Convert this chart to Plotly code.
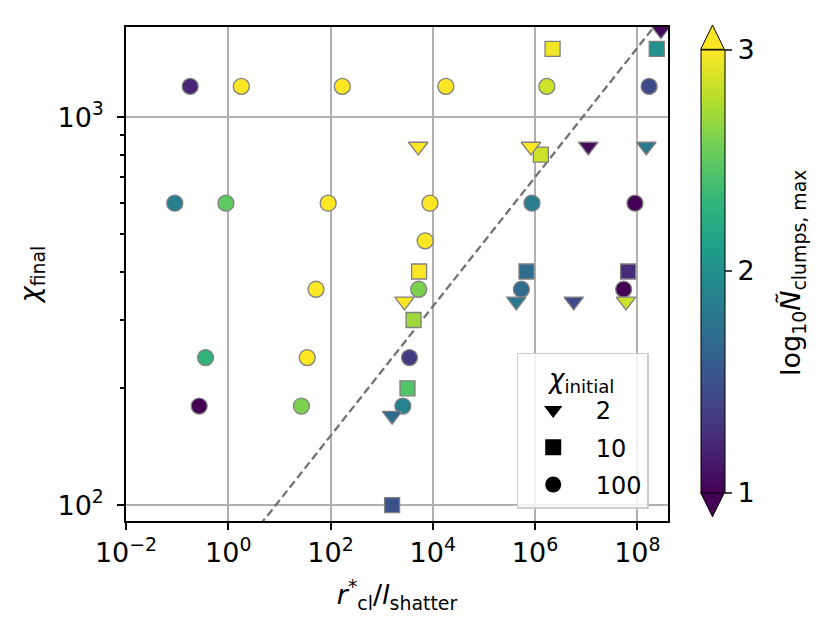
import numpy as np
import plotly.graph_objects as go

# chi_initial = 2 (triangulos)
tri_x = [5.2e3, 8.3e5, 1.1e7, 1.5e8, 2.9e8, 2.8e3, 4.3e5, 5.7e6, 6.0e7, 1.6e3]
tri_y = [840, 840, 840, 840, 1675, 335, 335, 335, 335, 170]
tri_c = [3.0, 3.0, 1.05, 1.8, 1.05, 3.0, 1.8, 1.45, 2.85, 1.7]

# chi_initial = 10 (cuadrados)
sq_x = [2.2e6, 2.4e8, 1.3e6, 5.4e3, 6.8e5, 6.6e7, 4.2e3, 3.2e3, 1.6e3]
sq_y = [1500, 1500, 800, 400, 400, 400, 300, 200, 100]
sq_c = [2.95, 2.0, 2.85, 3.0, 1.7, 1.25, 2.7, 2.45, 1.5]

# chi_initial = 100 (circulos)
ci_x = [0.18, 1.8, 170, 1.8e4, 1.7e6, 1.7e8,
        0.09, 0.9, 90, 8.8e3, 8.7e5, 9.0e7,
        52, 5.3e3, 5.4e5, 5.4e7, 7.1e3,
        0.36, 35, 3.5e3, 0.27, 27, 2.6e3]
ci_y = [1200, 1200, 1200, 1200, 1200, 1200,
        600, 600, 600, 600, 600, 600,
        360, 360, 360, 360, 480,
        240, 240, 240, 180, 180, 180]
ci_c = [1.2, 3.0, 3.0, 3.0, 2.85, 1.45,
        1.85, 2.5, 3.0, 3.0, 1.85, 1.0,
        3.0, 2.6, 1.7, 1.0, 3.0,
        2.3, 3.0, 1.35, 1.0, 2.6, 1.9]

legend_names = ["2", "10", "100"]
legend_symbols = ["triangle-down", "square", "circle"]

x_ticks = [1e-2, 1e0, 1e2, 1e4, 1e6, 1e8]
x_ticktext = ["10<sup>−2</sup>", "10<sup>0</sup>", "10<sup>2</sup>",
              "10<sup>4</sup>", "10<sup>6</sup>", "10<sup>8</sup>"]
y_ticks = [1e2, 1e3]
y_ticktext = ["10<sup>2</sup>", "10<sup>3</sup>"]

# la pagina agrega 8px de margen al body
OFF = 8
W, H = 829 - OFF, 635 - OFF
L, R, T, B = 126 - OFF, 161, 27 - OFF, 114
pw, ph = W - L - R, H - T - B
def px(x): return (x - OFF - L) / pw
def py(y): return (H + OFF - B - y) / ph

font = "DejaVu Sans"
FS = 27
fig = go.Figure()

# linea de referencia chi ~ x^(1/6)
xl = np.logspace(-2, 9, 50)
fig.add_trace(go.Scatter(x=xl, y=70 * xl ** (1 / 6), mode="lines",
                         line=dict(color="#737373", width=2.3, dash="8px,4px"),
                         showlegend=False, hoverinfo="skip"))

def marker(sym, c, size, cbar=False):
    m = dict(symbol=sym, size=size, color=c, colorscale="Viridis", cmin=1, cmax=3,
             line=dict(color="gray", width=1.3))
    if cbar:
        m.update(showscale=True, colorbar=dict(
            x=px(700.7), xanchor="left", xpad=0, ypad=0,
            y=(py(49.3) + py(492.7)) / 2, yanchor="middle",
            len=py(49.3) - py(492.7), lenmode="fraction",
            thickness=24, outlinewidth=1, outlinecolor="black",
            tickvals=[1, 2, 3], ticks="outside", ticklen=7, tickwidth=1.5,
            tickfont=dict(family=font, size=FS, color="black")))
    return m

fig.add_trace(go.Scatter(x=sq_x, y=sq_y, mode="markers", marker=marker("square", sq_c, 15),
                         showlegend=False))
fig.add_trace(go.Scatter(x=ci_x, y=ci_y, mode="markers", marker=marker("circle", ci_c, 16),
                         showlegend=False))
fig.add_trace(go.Scatter(x=tri_x, y=tri_y, mode="markers",
                         marker=marker("triangle-down", tri_c, 17, cbar=True),
                         showlegend=False))

for name, sym in zip(legend_names, legend_symbols):
    fig.add_trace(go.Scatter(x=[None], y=[None], mode="markers",
                             name="\u00a0" + name, legendgroup=name,
                             marker=dict(symbol=sym, size=16, color="black")))

# flechas de extension de la barra de color
x0, x1 = px(700.7), px(724.3)
xm = (x0 + x1) / 2
fig.add_shape(type="path", xref="paper", yref="paper",
              path=f"M {x0},{py(49.3)} L {xm},{py(25)} L {x1},{py(49.3)} Z",
              fillcolor="#fde725", line=dict(color="black", width=1))
fig.add_shape(type="path", xref="paper", yref="paper",
              path=f"M {x0},{py(492.7)} L {xm},{py(516.7)} L {x1},{py(492.7)} Z",
              fillcolor="#440154", line=dict(color="black", width=1))

fig.add_annotation(xref="paper", yref="paper", x=px(792), y=py(273), textangle=-90,
                   xanchor="center", yanchor="middle",
                   text="log<sub>10</sub><i>Ñ</i><sub>clumps, max</sub>", showarrow=False,
                   font=dict(family=font, size=FS, color="black"))

ax = dict(type="log", showline=True, linecolor="black", linewidth=1.5, mirror=True,
          ticks="outside", ticklen=7, tickwidth=1.5, tickcolor="black",
          showgrid=True, gridcolor="#b0b0b0", gridwidth=1.5, zeroline=False,
          tickfont=dict(family=font, size=FS, color="black"))

fig.update_xaxes(**ax, range=[-2, 8.6], tickvals=x_ticks, ticktext=x_ticktext,
                 title=dict(text="<i>r</i><sup>*</sup><sub>cl</sub>/<i>l</i><sub>shatter</sub>",
                            font=dict(family=font, size=FS, color="black"), standoff=18))
fig.update_yaxes(**ax, range=[np.log10(91), np.log10(1707)], tickvals=y_ticks, ticktext=y_ticktext,
                 ticklabelstandoff=8,
                 minor=dict(ticks="outside", ticklen=4, tickcolor="black", showgrid=False,
                            tickvals=[200, 300, 400, 500, 600, 700, 800, 900]),
                 title=dict(text="<i>χ</i><sub>final</sub>",
                            font=dict(family=font, size=FS, color="black"), standoff=10))

fig.update_layout(
    width=W, height=H, margin=dict(l=L, r=R, t=T, b=B),
    plot_bgcolor="white", paper_bgcolor="white",
    font=dict(family=font, color="black"),
    legend=dict(title=dict(text="<i>χ</i><sub>initial</sub>", side="top center",
                           font=dict(family=font, size=26)),
                x=px(516.7), y=py(352.7), xanchor="left", yanchor="top",
                bgcolor="rgba(255,255,255,0.8)", bordercolor="#cccccc", borderwidth=1.5,
                font=dict(family=font, size=24), itemwidth=60, tracegroupgap=3,
                entrywidth=96),
)

fig.write_html("out.html")
